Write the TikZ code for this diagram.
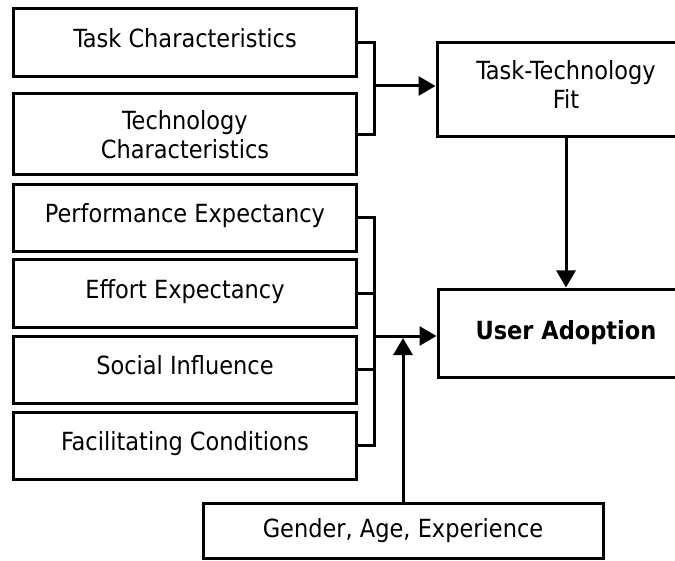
\documentclass[tikz,border=0pt]{standalone}
\usepackage{fontspec}
\setmainfont{DejaVu Sans Condensed}
\usepackage{tikz}
\usetikzlibrary{arrows.meta}
\usetikzlibrary{calc}
\tikzset{ factor_box/.style = {rectangle, draw, line width=3bp, align=center, inner sep=0pt} }
\tikzset{ raised/.style = {text height=19bp, text depth=9bp} }
\tikzset{ link/.style = {line width=3bp} }
\tikzset{ arr/.style = {line width=3bp, -{Triangle[length=17bp,width=19bp]}} }

\begin{document}
\begin{tikzpicture}[x=1bp, y=-1bp, font=\fontsize{25bp}{29bp}\selectfont]
            \clip (0,0) rectangle (675,561);
            \node[factor_box, raised, minimum width=343bp, minimum height=68bp] (tc) at (185,43) {Task Characteristics};
            \node[factor_box, minimum width=343bp, minimum height=81bp] (tech) at (185,134.5) {Technology\\Characteristics};
            \node[factor_box, raised, minimum width=343bp, minimum height=67bp] (pe) at (185,218) {Performance Expectancy};
            \node[factor_box, raised, minimum width=343bp, minimum height=67bp] (ee) at (185,293.5) {Effort Expectancy};
            \node[factor_box, raised, minimum width=343bp, minimum height=67bp] (si) at (185,369.5) {Social Influence};
            \node[factor_box, raised, minimum width=343bp, minimum height=67bp] (fc) at (185,445.5) {Facilitating Conditions};
            \node[factor_box, minimum width=258bp, minimum height=94bp] (ttf) at (566,90) {Task-Technology\\Fit\rule[-10bp]{0pt}{0pt}};
            \node[factor_box, minimum width=256bp, minimum height=88bp] (ua) at (566,333) {\bfseries User Adoption};
            \node[factor_box, minimum width=400bp, minimum height=55bp] (gae) at (403,530.5) {Gender, Age, Experience};
            \coordinate (j1) at (374,86);
            \coordinate (j2) at (374,336);
            \draw[link] (tc.east) -| (j1) |- (tech.east);
            \draw[arr] (j1) -- (j1 -| ttf.west);
            \draw[link] (pe.east) -| (j2) |- (fc.east);
            \draw[link] (ee.east) -- (ee.east -| j2);
            \draw[link] (si.east) -- (si.east -| j2);
            \draw[arr] (j2) -- (j2 -| ua.west);
            \draw[arr, shorten >=2bp] (gae.north) -- (gae.north |- j2);
            \draw[arr] (ttf.south) -- (ua.north);
        \end{tikzpicture}
\end{document}
